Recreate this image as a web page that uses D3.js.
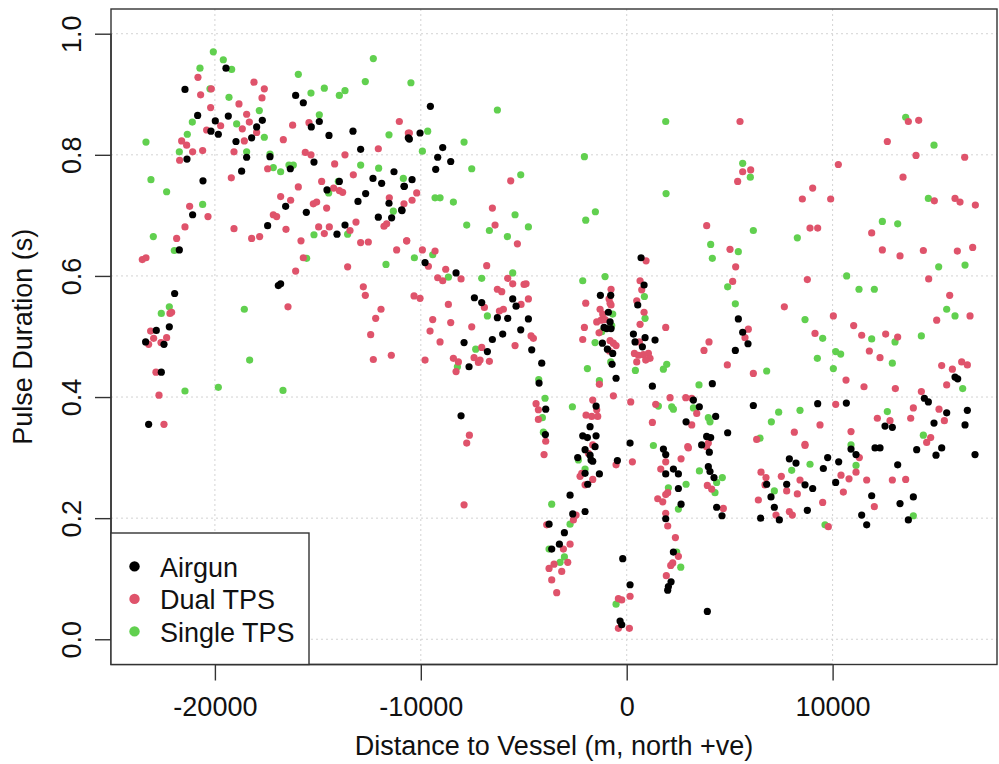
<!DOCTYPE html>
<html><head><meta charset="utf-8">
<script src="https://cdn.jsdelivr.net/npm/d3@7"></script>
<style>body{margin:0;background:#fff}svg{display:block}text{font-family:"Liberation Sans",Arial,sans-serif;fill:#111}</style>
</head><body><div id="chart"></div>
<script>
const seriesNames = ["Airgun", "Dual TPS", "Single TPS"];
const seriesColors = ["#000000", "#DF536B", "#61D04F"];
const xTicks = [-20000, -10000, 0, 10000];
const yTicks = [0.0, 0.2, 0.4, 0.6, 0.8, 1.0];

const airgun = [[-19462,0.943],[-21453,0.908],[-20838,0.865],[-19980,0.856],[-20191,0.839],[-19834,0.834],[-19349,0.864],[-18976,0.822],[-17972,0.846],[-18215,0.828],[-17697,0.857],[-18458,0.796],[-17325,0.797],[-18701,0.773],[-21356,0.793],[-20579,0.757],[-21081,0.701],[-16078,0.898],[-15706,0.886],[-15318,0.846],[-14929,0.855],[-14459,0.832],[-13294,0.839],[-12921,0.809],[-15188,0.788],[-16337,0.777],[-14556,0.742],[-13957,0.756],[-12322,0.761],[-11901,0.753],[-11302,0.772],[-10817,0.748],[-12678,0.736],[-13051,0.723],[-11545,0.720],[-16564,0.715],[-15560,0.705],[-12063,0.697],[-11416,0.696],[-10930,0.709],[-10607,0.828],[-17438,0.683],[-13682,0.684],
[-21728,0.643],[-21955,0.571],[-22214,0.516],[-22846,0.510],[-23364,0.491],[-22473,0.487],[-22603,0.441],[-23218,0.355],[-16920,0.584],[-16807,0.587],[-14071,0.669],
[-9535,0.880],[-10037,0.836],[-10555,0.826],[-8936,0.812],[-9179,0.796],[-8547,0.789],[-9276,0.776],[-10425,0.759],[-10798,0.748],[-10911,0.708],
[-9794,0.622],[-8288,0.605],[-7397,0.564],[-7042,0.556],[-5536,0.562],[-5374,0.550],[-6281,0.531],[-5779,0.530],[-4775,0.529],[-6022,0.504],[-5147,0.511],[-6524,0.495],[-7899,0.490],[-6766,0.475],[-4613,0.478],[-7657,0.450],[-4127,0.456],[-4257,0.423],[-3933,0.380],[-3949,0.338],[-8045,0.369],
[-1278,0.568],[-776,0.568],[-889,0.540],[-808,0.524],[-1100,0.515],[-970,0.513],[-760,0.513],[-1181,0.489],[-938,0.479],[-679,0.472],[-711,0.454],[-517,0.431],[-1488,0.385],[-1780,0.351],[-2136,0.336],[-1909,0.333],[-1488,0.336],[-1537,0.318],
[698,0.630],[843,0.585],[536,0.552],[325,0.504],[892,0.498],[406,0.491],[1376,0.494],[762,0.483],[1247,0.418],[3239,0.395],[2883,0.359],[163,0.324],[1782,0.314],
[5422,0.529],[5632,0.507],[5891,0.488],[5276,0.477],[4159,0.422],[3527,0.384],[4321,0.368],[3883,0.335],[4078,0.333],[3640,0.321],[4903,0.341],[6150,0.386],[9275,0.389],[10667,0.390],[12060,0.316],[12302,0.316],[12545,0.352],[12901,0.350],[14456,0.398],[14650,0.392],[14925,0.357],[15541,0.374],[16544,0.378],[16431,0.354],[15298,0.316],[14083,0.313],[15945,0.433],[16075,0.430],
[-2379,0.300],[-2022,0.313],[-1731,0.296],[-1650,0.294],[-1780,0.304],[-1327,0.273],[-2022,0.274],[-1893,0.256],[-2751,0.238],[-2022,0.211],[-2621,0.207],[-3771,0.190],[-3026,0.176],[-3269,0.157],[-3642,0.149],[-193,0.133],[163,0.090],[-322,0.030],[-242,0.024],[-452,0.295],[1895,0.305],[2268,0.281],[2510,0.273],[1895,0.273],[2510,0.249],[2640,0.223],[1895,0.199],[2267,0.144],[2154,0.095],[2025,0.087],[1992,0.081],
[4013,0.309],[3964,0.285],[4045,0.277],[4240,0.267],[4369,0.218],[4628,0.204],[6798,0.256],[7008,0.235],[7170,0.218],[6506,0.200],[7413,0.197],[7769,0.256],[7899,0.298],[8222,0.291],[8660,0.255],[9032,0.249],[8773,0.213],[9550,0.282],[9760,0.300],[10149,0.259],[10295,0.293],[10894,0.314],[11137,0.305],[11898,0.237],[11412,0.205],[11655,0.189],[13161,0.288],[13274,0.224],[13921,0.235],[13678,0.197],[15022,0.304],[16917,0.305],[3916,0.046]];

const dualTPS = [[-20822,0.928],[-20693,0.899],[-20174,0.909],[-20207,0.878],[-20401,0.841],[-21615,0.823],[-21372,0.816],[-21081,0.805],[-21712,0.791],[-20595,0.807],[-19721,0.848],[-18831,0.884],[-18458,0.867],[-18328,0.854],[-18669,0.843],[-18571,0.823],[-19073,0.805],[-18102,0.920],[-17600,0.909],[-17713,0.894],[-17972,0.837],[-17438,0.777],[-19203,0.762],[-16677,0.825],[-16224,0.849],[-15609,0.804],[-15334,0.800],[-15431,0.853],[-14184,0.785],[-13682,0.800],[-13277,0.767],[-12063,0.810],[-11043,0.855],[-10607,0.836],[-14815,0.756],[-15949,0.747],[-14233,0.745],[-13957,0.741],[-13796,0.738],[-16807,0.731],[-16321,0.725],[-15220,0.719],[-15058,0.722],[-14573,0.712],[-13148,0.689],[-11658,0.686],[-11788,0.682],[-10817,0.719],[-21227,0.715],[-20336,0.698],[-21453,0.681],[-19073,0.678],[-17163,0.701],[-17001,0.698],[-16548,0.677],[-14961,0.681],[-14443,0.681],[-11529,0.729],
[-21858,0.662],[-23526,0.627],[-23347,0.630],[-22101,0.540],[-22182,0.538],[-23121,0.509],[-22975,0.497],[-23218,0.487],[-22619,0.490],[-22344,0.498],[-22862,0.441],[-22716,0.403],[-22473,0.355],[-18215,0.662],[-17827,0.665],[-15819,0.658],[-15706,0.630],[-16078,0.608],[-16450,0.549],[-14686,0.670],[-13439,0.675],[-13553,0.615],[-12921,0.655],[-12549,0.656],[-12792,0.582],[-12695,0.568],[-11933,0.545],[-12192,0.530],[-12435,0.503],[-12306,0.462],[-11432,0.469],[-11173,0.643],[-10687,0.658],
[-10555,0.836],[-10199,0.737],[-10425,0.725],[-5633,0.757],[-6524,0.712],[-6394,0.684],
[-5309,0.653],[-10684,0.658],[-9923,0.643],[-9308,0.641],[-9632,0.616],[-6799,0.617],[-8790,0.611],[-9179,0.597],[-8936,0.592],[-8045,0.595],[-5779,0.596],[-5536,0.587],[-4985,0.586],[-4888,0.587],[-6281,0.578],[-6070,0.574],[-6912,0.548],[-10328,0.567],[-10037,0.563],[-8661,0.553],[-5131,0.553],[-4775,0.562],[-5989,0.545],[-6183,0.542],[-9421,0.528],[-8547,0.523],[-9551,0.509],[-7527,0.516],[-4645,0.501],[-4532,0.497],[-9065,0.491],[-7041,0.482],[-5423,0.485],[-8418,0.464],[-8175,0.458],[-9794,0.461],[-7414,0.465],[-7203,0.457],[-7122,0.461],[-6669,0.459],[-8288,0.442],[-4403,0.389],[-4289,0.379],[-4289,0.363],[-3933,0.327],[-7641,0.337],[-7770,0.324],
[-760,0.578],[-857,0.562],[-808,0.555],[-760,0.552],[-1990,0.555],[-1294,0.545],[-1165,0.537],[-1456,0.524],[-1246,0.527],[-1051,0.528],[-2055,0.515],[-1343,0.506],[-2136,0.495],[-808,0.493],[-647,0.489],[-517,0.485],[-841,0.476],[-1327,0.421],[-647,0.402],[-1650,0.395],[-1456,0.379],[-1974,0.370],[-1699,0.368],[-1408,0.368],[-1650,0.321],
[940,0.625],[649,0.592],[730,0.577],[487,0.559],[843,0.540],[649,0.520],[1895,0.515],[616,0.491],[374,0.472],[568,0.469],[811,0.470],[1054,0.472],[1133,0.464],[487,0.458],[924,0.461],[195,0.392],[1409,0.388],[2106,0.399],[2867,0.399],[3158,0.398],[3401,0.373],[3158,0.354],[2964,0.318],[1247,0.358],
[5503,0.855],[5632,0.772],[6021,0.775],[5389,0.756],[9032,0.745],[8530,0.727],[9906,0.727],[10278,0.784],[3884,0.683],[8902,0.679],[9275,0.679],[11898,0.671],[12658,0.822],[13678,0.855],[14180,0.857],[14051,0.799],[13419,0.763],[14941,0.724],[15945,0.728],[16188,0.722],[16933,0.717],[16415,0.796],
[5017,0.644],[5292,0.615],[5146,0.591],[5907,0.512],[5745,0.498],[3997,0.491],[3754,0.477],[4887,0.453],[6150,0.439],[8773,0.594],[7656,0.549],[9145,0.505],[10036,0.534],[12416,0.643],[13274,0.633],[14407,0.642],[16058,0.641],[16803,0.647],[14666,0.595],[15686,0.568],[15055,0.527],[16674,0.534],[11023,0.518],[11412,0.502],[12577,0.504],[13160,0.499],[11784,0.476],[12302,0.465],[10651,0.428],[11525,0.417],[13047,0.414],[14310,0.409],[15297,0.452],[15816,0.446],[16269,0.458],[16544,0.453],[15540,0.420],[3964,0.324],[9388,0.354],[8141,0.342],[8659,0.322],[10149,0.388],[10894,0.343],[12173,0.365],[12788,0.361],[13792,0.365],[13921,0.382],[15168,0.380],[15427,0.361],[14763,0.333],[14569,0.325],[6312,0.330],
[-7899,0.222],[-4014,0.305],[-2184,0.274],[-2265,0.269],[-1650,0.264],[-2022,0.255],[-2459,0.205],[-2589,0.197],[-3885,0.189],[-2751,0.157],[-3075,0.149],[-2864,0.127],[-3528,0.124],[-3771,0.117],[-3156,0.112],[-3642,0.098],[-3399,0.077],[163,0.071],[-242,0.065],[-404,0.067],[-404,0.018],[130,0.018],[-517,0.288],[276,0.293],[1895,0.293],[2996,0.316],[2640,0.298],[1653,0.281],[1992,0.242],[1895,0.239],[1507,0.232],[1750,0.227],[1895,0.208],[1992,0.187],[2365,0.168],[2510,0.137],[2235,0.126],[2138,0.122],[1924,0.105],[-1861,0.307],
[3916,0.254],[4126,0.248],[4693,0.216],[6522,0.276],[6765,0.267],[6717,0.255],[6393,0.230],[7251,0.205],[7510,0.269],[7769,0.245],[8416,0.263],[8287,0.240],[7899,0.211],[8044,0.205],[8660,0.320],[9518,0.226],[9793,0.186],[10408,0.271],[10522,0.243],[10797,0.265],[11298,0.300],[11137,0.276],[11655,0.263],[12027,0.219],[12901,0.263],[13549,0.264],[3880,0.318]];

const singleTPS = [[-20077,0.970],[-19592,0.957],[-19187,0.941],[-20725,0.943],[-23347,0.821],[-21340,0.834],[-21097,0.854],[-20239,0.909],[-19316,0.895],[-18944,0.851],[-17843,0.873],[-17600,0.829],[-18458,0.805],[-21728,0.805],[-23105,0.759],[-22344,0.739],[-15949,0.933],[-15334,0.902],[-14686,0.910],[-13957,0.898],[-13682,0.906],[-12695,0.921],[-12306,0.959],[-14929,0.866],[-17325,0.801],[-17163,0.779],[-16807,0.772],[-16402,0.783],[-16192,0.783],[-12921,0.783],[-12047,0.778],[-11545,0.833],[-10849,0.761],[-14475,0.737],[-14006,0.756],[-20595,0.718],[-11335,0.707],[-10480,0.919],
[-22991,0.665],[-21971,0.642],[-22214,0.549],[-22603,0.538],[-18571,0.545],[-18313,0.461],[-21453,0.410],[-19834,0.416],[-16693,0.411],[-15188,0.668],[-13553,0.669],[-15544,0.629],[-11691,0.619],
[-6281,0.874],[-9664,0.839],[-9923,0.806],[-7899,0.821],[-7527,0.777],[-9308,0.729],[-9065,0.729],[-8418,0.722],[-5147,0.767],[-5423,0.701],[-7770,0.684],[-6669,0.675],[-4775,0.681],[-2055,0.797],[-1521,0.706],[-1990,0.692],[1895,0.855],[1912,0.736],
[-5795,0.665],[-10312,0.630],[-9421,0.635],[-8661,0.598],[-7041,0.596],[-5536,0.605],[-6766,0.534],[-7333,0.479],[-8223,0.450],[-4273,0.429],[-3966,0.398],[-4095,0.366],[-4046,0.342],
[-2136,0.592],[-1051,0.599],[-679,0.537],[-1213,0.508],[-728,0.518],[-1537,0.490],[-776,0.458],[-1909,0.447],[-1327,0.427],[-2638,0.384],
[859,0.566],[892,0.530],[422,0.444],[1944,0.454],[1782,0.446],[1539,0.385],[2186,0.384],[2267,0.380],[3239,0.382],[1296,0.320],
[5632,0.786],[6004,0.763],[6150,0.675],[13549,0.862],[14925,0.816],[14650,0.728],[12416,0.690],[13161,0.686],
[8287,0.663],[4078,0.652],[4159,0.629],[5421,0.640],[4903,0.582],[5276,0.554],[6798,0.443],[8660,0.528],[9518,0.497],[9259,0.464],[10683,0.600],[11282,0.578],[12027,0.578],[15152,0.615],[16431,0.618],[15540,0.545],[15945,0.534],[11898,0.496],[13031,0.491],[14310,0.501],[10149,0.475],[10392,0.471],[10036,0.447],[12901,0.456],[16318,0.414],[3511,0.420],[3964,0.366],[4045,0.359],[7380,0.375],[7025,0.359],[6474,0.332],[8416,0.378],[10894,0.321],[12658,0.376],[14407,0.337],
[-2346,0.296],[-2022,0.281],[-3642,0.223],[-2751,0.190],[-3771,0.149],[-3026,0.136],[-3237,0.127],[-517,0.058],[2025,0.250],[2883,0.256],[2510,0.215],[2429,0.144],[2624,0.119],[3531,0.278],
[4644,0.267],[4369,0.259],[4288,0.242],[7170,0.245],[8012,0.279],[8903,0.289],[9631,0.189],[11137,0.287],[13921,0.204]];

const W = 999, H = 764;
const L = 111, R = 997, T = 9, B = 664.5;
const FONT = '"Liberation Sans", Arial, sans-serif';
const fs = 27;
const svg = d3.select("#chart").append("svg").attr("width", W).attr("height", H);
const x = d3.scaleLinear().domain([-25046, 17984]).range([L, R]);
const y = d3.scaleLinear().domain([-0.0425, 1.0408]).range([665, 9]);

// grid
const grid = svg.append("g").attr("stroke", "#d3d3d3").attr("stroke-width", 1).attr("stroke-dasharray", "2,3");
grid.selectAll("line.v").data(xTicks).join("line").attr("class","v")
  .attr("x1", d => x(d)).attr("x2", d => x(d)).attr("y1", T).attr("y2", B);
grid.selectAll("line.h").data(yTicks).join("line").attr("class","h")
  .attr("x1", L).attr("x2", R).attr("y1", d => y(d)).attr("y2", d => y(d));

// points
const order = [[singleTPS, 2], [dualTPS, 1], [airgun, 0]];
order.forEach(([data, i]) => {
  svg.append("g").selectAll("circle").data(data).join("circle")
    .attr("cx", d => x(d[0])).attr("cy", d => y(d[1])).attr("r", 3.6)
    .attr("fill", seriesColors[i]);
});

// box
svg.append("rect").attr("x", L).attr("y", T).attr("width", R - L).attr("height", B - T)
  .attr("fill", "none").attr("stroke", "#333").attr("stroke-width", 1.4);

// axes
const xAxis = d3.axisBottom(x).tickValues(xTicks).tickSize(16).tickFormat(d3.format("d"));
const gx = svg.append("g").attr("transform", `translate(0,${B})`).call(xAxis);
gx.select(".domain").attr("d", `M${x(xTicks[0])},0H${x(xTicks[xTicks.length-1])}`).attr("stroke","#333").attr("stroke-width",1.4);
gx.selectAll(".tick line").attr("stroke","#333").attr("stroke-width",1.4);
gx.selectAll(".tick text").attr("font-size", fs).attr("font-family", FONT).attr("fill","#111")
  .attr("y", 51.5).attr("dy", null)
  .text(d => d < 0 ? "-" + Math.abs(d) : String(d));

const yAxis = d3.axisLeft(y).tickValues(yTicks).tickSize(16).tickFormat(d3.format(".1f"));
const gy = svg.append("g").attr("transform", `translate(${L},0)`).call(yAxis);
gy.select(".domain").attr("d", `M0,${y(0)}V${y(1)}`).attr("stroke","#333").attr("stroke-width",1.4);
gy.selectAll(".tick line").attr("stroke","#333").attr("stroke-width",1.4);
gy.selectAll(".tick text").attr("font-size", fs).attr("font-family", FONT).attr("fill","#111")
  .attr("x", null).attr("dy", null).attr("text-anchor", "middle")
  .attr("transform", "translate(-30,0) rotate(-90)");

// titles
svg.append("text").attr("x", (L + R) / 2).attr("y", 755).attr("text-anchor", "middle")
  .attr("font-size", fs).text("Distance to Vessel (m, north +ve)");
svg.append("text").attr("transform", `translate(32,${(T + B) / 2}) rotate(-90)`).attr("text-anchor", "middle")
  .attr("font-size", fs).text("Pulse Duration (s)");

// legend
const lg = svg.append("g");
lg.append("rect").attr("x", L).attr("y", 533).attr("width", 309 - L).attr("height", B - 533)
  .attr("fill", "#fff").attr("stroke", "#333").attr("stroke-width", 1.4);
seriesNames.forEach((n, i) => {
  const by = 576.7 + i * 32.5;
  lg.append("circle").attr("cx", 134.5).attr("cy", by - 10.3).attr("r", 5.2).attr("fill", seriesColors[i]);
  lg.append("text").attr("x", 160).attr("y", by).attr("font-size", fs).text(n);
});
</script></body></html>
